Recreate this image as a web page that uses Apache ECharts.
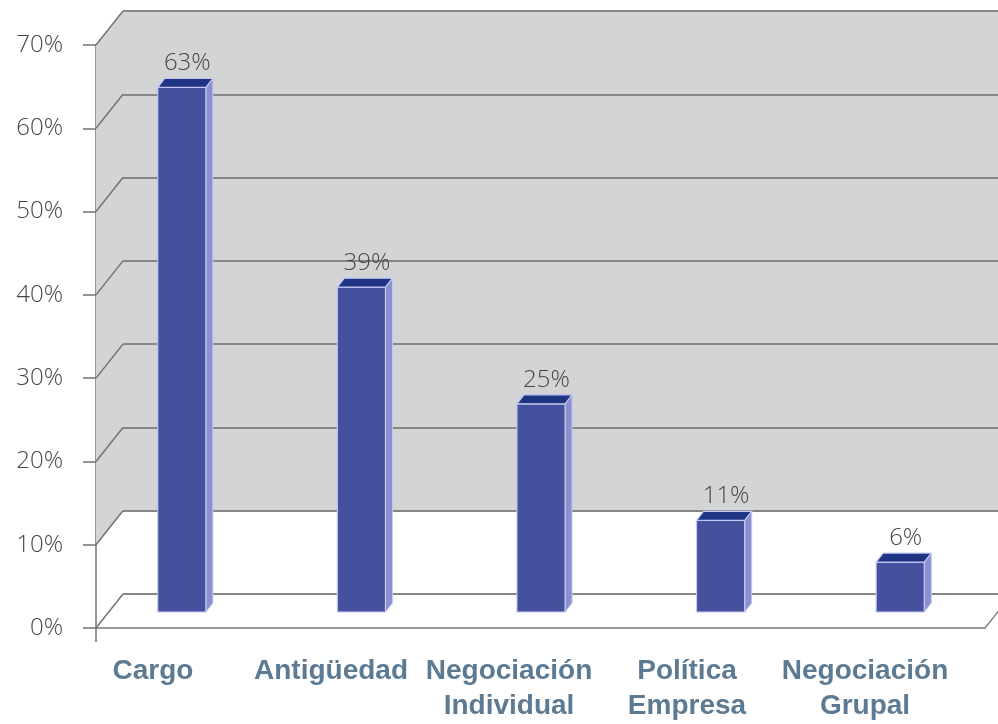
<!DOCTYPE html>
<html>
<head>
<meta charset="utf-8">
<title>Factores</title>
<script src="https://cdn.jsdelivr.net/npm/echarts@6/dist/echarts.min.js"></script>
<style>
  html, body { margin: 0; padding: 0; background: #ffffff; }
  #chart { width: 998px; height: 724px; }
</style>
</head>
<body>
<div id="chart"></div>
<script>
// Categories and percentages
const categories = ['Cargo', 'Antigüedad', 'Negociación\nIndividual', 'Política\nEmpresa', 'Negociación\nGrupal'];
const values = [63, 39, 25, 11, 6];
const axisTicks = [0, 10, 20, 30, 40, 50, 60, 70];

// Pseudo-3D offsets (x, y) for the walls and the bar blocks
const WALL_DEPTH = [27, -34];
const BAR_DEPTH = [7, -9];

const chart = echarts.init(document.getElementById('chart'), null, { renderer: 'canvas' });

const wallGray = '#d3d4d6';
const lineGray = '#868686';
const textGray = '#464646';

function renderWalls(params, api) {
  const v = api.value(1);
  const p = api.coord([0, v]);
  const children = [];
  if (params.dataIndex === 0) {
    // side wall shading from 10% up to the top
    const a = api.coord([0, 10]);
    const b = api.coord([0, 70]);
    children.push({
      type: 'polygon',
      shape: { points: [a, [a[0] + WALL_DEPTH[0], a[1] + WALL_DEPTH[1]], [b[0] + WALL_DEPTH[0], b[1] + WALL_DEPTH[1]], b] },
      style: { fill: wallGray },
      z2: 0
    });
    // value axis runs a little below the floor
    children.push({
      type: 'line',
      shape: { x1: p[0], y1: p[1], x2: p[0], y2: p[1] + 14 },
      style: { stroke: '#737373', lineWidth: 1.5 },
      z2: 2
    });
    // right floor edge
    const q = api.coord([1, 0]);
    children.push({
      type: 'line',
      shape: { x1: q[0], y1: q[1], x2: q[0] + WALL_DEPTH[0], y2: q[1] + WALL_DEPTH[1] },
      style: { stroke: lineGray, lineWidth: 1.5 },
      z2: 2
    });
  }
  children.push({
    type: 'line',
    shape: { x1: p[0], y1: p[1], x2: p[0] + WALL_DEPTH[0], y2: p[1] + WALL_DEPTH[1] },
    style: { stroke: '#737373', lineWidth: 1.5 },
    z2: 2
  });
  return { type: 'group', children: children };
}

function renderBar(params, api) {
  const i = api.value(0);
  const v = api.value(1);
  const top = api.coord([i, v]);
  const base = api.coord([i, 0]);
  const w = api.size([1, 0])[0] * 0.268;
  const x0 = top[0] - w / 2;
  const x1 = top[0] + w / 2;
  const dx = BAR_DEPTH[0], dy = BAR_DEPTH[1];
  const edge = '#c4c8f2';
  return {
    type: 'group',
    children: [
      {
        type: 'polygon',
        shape: { points: [[x1, top[1]], [x1 + dx, top[1] + dy], [x1 + dx, base[1] + dy], [x1, base[1]]] },
        style: { fill: '#8b90d0', stroke: edge, lineWidth: 1 }
      },
      {
        type: 'rect',
        shape: { x: x0, y: top[1], width: w, height: base[1] - top[1] },
        style: { fill: '#46519e', stroke: edge, lineWidth: 1.2 }
      },
      {
        type: 'polygon',
        shape: { points: [[x0, top[1]], [x0 + dx, top[1] + dy], [x1 + dx, top[1] + dy], [x1, top[1]]] },
        style: { fill: '#1f3482', stroke: edge, lineWidth: 1.2 }
      },
      {
        type: 'text',
        style: {
          x: top[0] + dx / 2 + 2,
          y: top[1] + dy - 3,
          text: v + '%',
          fill: textGray,
          font: '300 24px "Open Sans", sans-serif',
          align: 'center',
          verticalAlign: 'bottom'
        }
      }
    ]
  };
}

const option = {
  backgroundColor: '#ffffff',
  animation: false,
  grid: [
    // back wall
    { left: 123, right: 0, top: 11, bottom: 130 },
    // front edge / value axis
    { left: 96, right: 13, top: 45, bottom: 96 },
    // bar plane
    { left: 92, right: 8, top: 29, bottom: 112 },
    // category labels
    { left: 64, right: 44, top: 45, bottom: 96 }
  ],
  xAxis: [
    { gridIndex: 0, type: 'value', min: 0, max: 1, show: false },
    {
      gridIndex: 1, type: 'value', min: 0, max: 1,
      axisLine: { show: true, lineStyle: { color: '#999999', width: 2 } },
      axisTick: { show: false }, axisLabel: { show: false }, splitLine: { show: false }
    },
    { gridIndex: 2, type: 'category', data: categories, show: false },
    {
      gridIndex: 3, type: 'category', data: categories,
      axisLine: { show: false }, axisTick: { show: false }, splitLine: { show: false },
      axisLabel: {
        interval: 0,
        margin: 26,
        color: '#5d7a93',
        fontFamily: '"Liberation Sans", Arial, sans-serif',
        fontWeight: 'bold',
        fontSize: 28,
        lineHeight: 35,
        align: 'center'
      }
    }
  ],
  yAxis: [
    {
      gridIndex: 0, type: 'value', min: 0, max: 70, interval: 10,
      axisLine: { show: false }, axisTick: { show: false }, axisLabel: { show: false },
      splitLine: { show: true, lineStyle: { color: lineGray, width: 2 } },
      splitArea: { show: true, areaStyle: { color: ['#ffffff', wallGray, wallGray, wallGray, wallGray, wallGray, wallGray] } }
    },
    {
      gridIndex: 1, type: 'value', min: 0, max: 70, interval: 10,
      axisLine: { show: true, lineStyle: { color: '#737373', width: 1.5 } },
      axisTick: { show: true, inside: false, length: 13, lineStyle: { color: '#737373', width: 1.5 } },
      axisLabel: {
        formatter: '{value}%', margin: 33,
        color: textGray, fontSize: 24, fontWeight: 300,
        fontFamily: '"Open Sans", sans-serif'
      },
      splitLine: { show: false }
    },
    { gridIndex: 2, type: 'value', min: 0, max: 70, interval: 10, show: false },
    { gridIndex: 3, type: 'value', min: 0, max: 70, interval: 10, show: false }
  ],
  series: [
    {
      name: 'walls',
      type: 'custom',
      xAxisIndex: 1, yAxisIndex: 1,
      clip: false,
      z: 1,
      silent: true,
      renderItem: renderWalls,
      data: axisTicks.map(function (t) { return [0, t]; })
    },
    {
      name: 'Porcentaje',
      type: 'custom',
      xAxisIndex: 2, yAxisIndex: 2,
      clip: false,
      z: 3,
      renderItem: renderBar,
      encode: { x: 0, y: 1 },
      data: values.map(function (v, i) { return [i, v]; })
    }
  ]
};

chart.setOption(option);
</script>
</body>
</html>
